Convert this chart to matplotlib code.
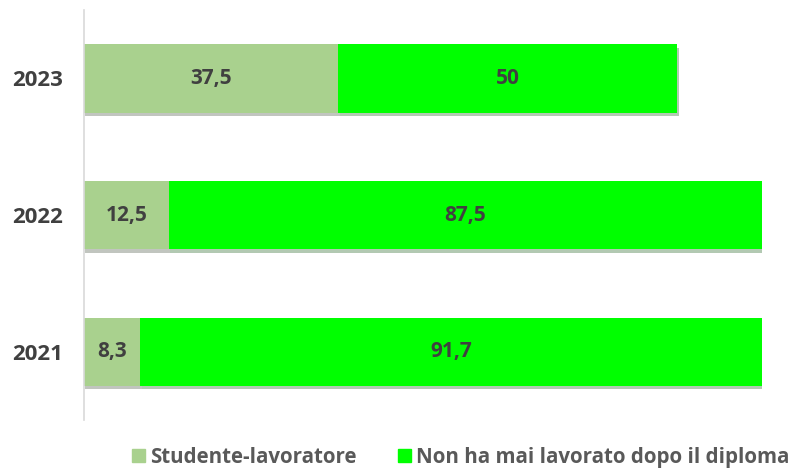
import matplotlib.pyplot as plt
import matplotlib.patheffects as pe
from matplotlib.patches import Patch

plt.rcParams['font.family'] = ['Open Sans', 'DejaVu Sans']

#Données
anni = ['2021', '2022', '2023']
studente = [8.3, 12.5, 37.5]
mai_lavorato = [91.7, 87.5, 50]
etichette = ['Studente-lavoratore', 'Non ha mai lavorato dopo il diploma']
colori = ['#a9d18e', '#00ff00']

fig = plt.figure(figsize=(7.97, 4.72), dpi=100)
ax = fig.add_axes([84/797, 52/472, 678/797, 410/472])

ombra = [pe.SimplePatchShadow(offset=(1, -2.5), alpha=0.3), pe.Normal()]

b1 = ax.barh(anni, studente, height=0.5, color=colori[0], path_effects=ombra)
b2 = ax.barh(anni, mai_lavorato, left=studente, height=0.5, color=colori[1], path_effects=ombra)

#Etichette dei valori
for barre, valori in [(b1, studente), (b2, mai_lavorato)]:
    for b, v in zip(barre, valori):
        testo = ('%g' % v).replace('.', ',')
        ax.text(b.get_x() + b.get_width() / 2, b.get_y() + b.get_height() / 2, testo,
                ha='center', va='center', fontsize=15, fontweight='bold', color='#404040')

ax.set_xlim(0, 100)
ax.set_ylim(-0.5, 2.5)
ax.set_xticks([])
for s in ['top', 'right', 'bottom']:
    ax.spines[s].set_visible(False)
ax.spines['left'].set_color('#d9d9d9')
ax.spines['left'].set_linewidth(1.2)
ax.tick_params(axis='y', length=0, pad=15)
for t in ax.get_yticklabels():
    t.set_fontsize(16)
    t.set_fontweight('bold')
    t.set_color('#404040')

maniglie = [Patch(color=c) for c in colori]
fig.legend(maniglie, etichette, loc='lower left', bbox_to_anchor=(113/797, -0.03), ncol=2,
           frameon=False, handlelength=0.65, handleheight=0.65, handletextpad=0.25,
           columnspacing=2.0, prop={'size': 14.8, 'weight': 'bold'}, labelcolor='#595959')

fig.savefig('out.png', dpi=100)
